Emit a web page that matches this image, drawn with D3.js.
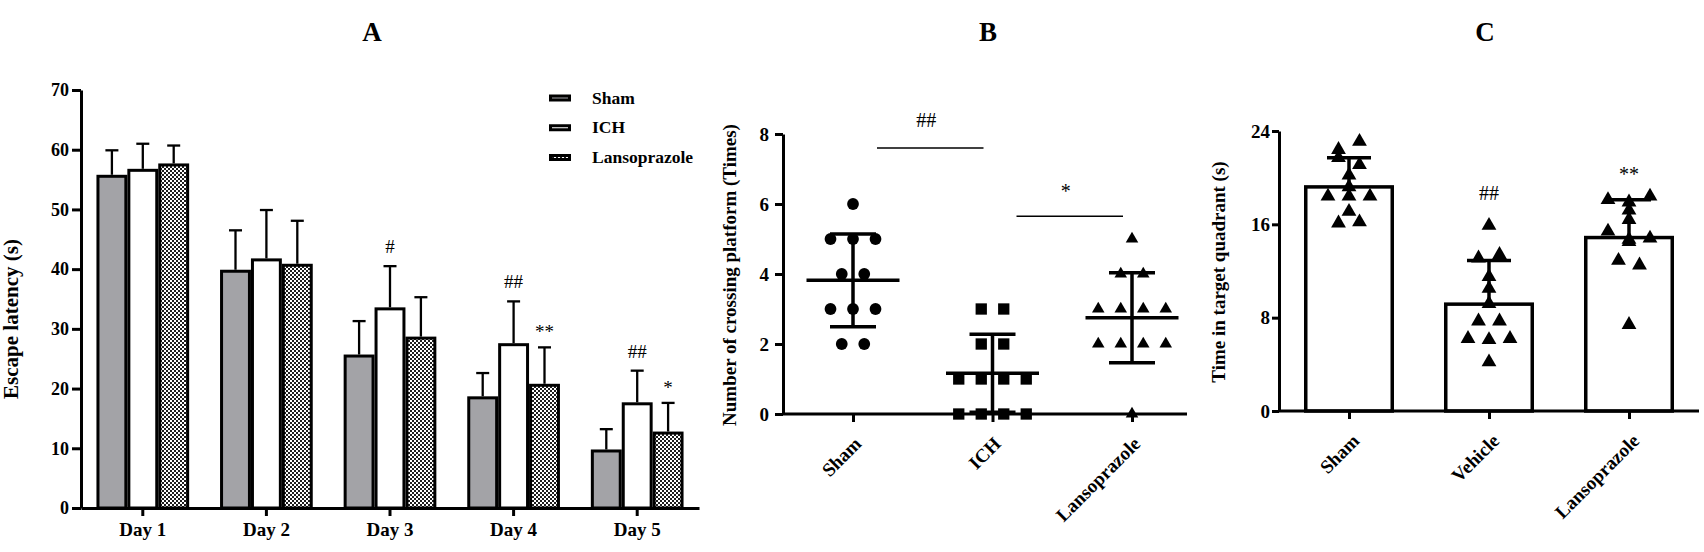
<!DOCTYPE html>
<html>
<head>
<meta charset="utf-8">
<script src="https://cdn.jsdelivr.net/npm/d3@7"></script>
<style>
  body { margin: 0; background: #fff; }
  svg { display: block; }
  text { font-family: "Liberation Serif", "Times New Roman", serif; fill: #000; }
</style>
</head>
<body>
<div id="chart"></div>
<script>
// ---- data ----

// A: escape latency, mean and SD per day
const days = ["Day 1", "Day 2", "Day 3", "Day 4", "Day 5"]
const groupsA = ["Sham", "ICH", "Lansoprazole"]
const shamLatency = [55.8, 39.9, 25.7, 18.7, 9.8]
const shamLatencySd = [4.1, 6.6, 5.6, 3.9, 3.4]
const ichLatency = [56.8, 41.8, 33.6, 27.6, 17.7]
const ichLatencySd = [4.2, 8.1, 6.9, 7.0, 5.3]
const lansoLatency = [57.7, 40.9, 28.7, 20.8, 12.8]
const lansoLatencySd = [3.0, 7.2, 6.6, 6.1, 4.8]
const latencyTicks = [0, 10, 20, 30, 40, 50, 60, 70]
const marksA = [
  { day: "Day 3", group: "ICH", label: "#" },
  { day: "Day 4", group: "ICH", label: "##" },
  { day: "Day 4", group: "Lansoprazole", label: "**" },
  { day: "Day 5", group: "ICH", label: "##" },
  { day: "Day 5", group: "Lansoprazole", label: "*" }
]

// B: platform crossings, one value per animal
const groupsB = ["Sham", "ICH", "Lansoprazole"]
const crossingSham = [6, 5, 5, 5, 4, 4, 3, 3, 3, 2, 2]
const crossingIch = [3, 3, 2, 2, 1, 1, 1, 1, 0, 0, 0, 0]
const crossingLanso = [5, 4, 4, 3, 3, 3, 3, 2, 2, 2, 2, 0]
const crossingTicks = [0, 2, 4, 6, 8]
const bracketsB = [
  { from: "Sham", to: "ICH", at: 7.6, label: "##" },
  { from: "ICH", to: "Lansoprazole", at: 5.65, label: "*" }
]

// C: time in target quadrant, one value per animal
const groupsC = ["Sham", "Vehicle", "Lansoprazole"]
const quadrantSham = [22.4, 23.1, 21.7, 21.1, 20.2, 19.2, 18.4, 18.4, 18.4, 17.1, 16.1, 16.2]
const quadrantVehicle = [15.9, 13.1, 13.4, 11.5, 10.5, 9.2, 7.7, 7.7, 6.2, 6.1, 6.2, 4.2]
const quadrantLanso = [18.1, 17.9, 18.4, 17.2, 16.4, 15.4, 14.7, 14.8, 14.5, 12.9, 12.5, 7.4]
const quadrantTicks = [0, 8, 16, 24]
const marksC = [
  { group: "Vehicle", at: 18.1, label: "##" },
  { group: "Lansoprazole", at: 19.7, label: "**" }
]

// ---- drawing ----
const width = 1704
const height = 552

const svg = d3.select("#chart")
  .append("svg")
  .attr("width", width)
  .attr("height", height)

// fine checker fill for the lansoprazole bars
const pattern = svg.append("defs")
  .append("pattern")
  .attr("id", "checker")
  .attr("width", 4)
  .attr("height", 4)
  .attr("patternUnits", "userSpaceOnUse")
pattern.append("rect").attr("width", 4).attr("height", 4).attr("fill", "#fff")
pattern.append("rect").attr("width", 2).attr("height", 2).attr("fill", "#1e1e1e")
pattern.append("rect").attr("x", 2).attr("y", 2).attr("width", 2).attr("height", 2).attr("fill", "#1e1e1e")

const fillA = { "Sham": "#a3a3a7", "ICH": "#fff", "Lansoprazole": "url(#checker)" }

const styleAxis = (g, size) => {
  g.selectAll(".domain").attr("stroke", "#000").attr("stroke-width", 3)
  g.selectAll(".tick line").attr("stroke", "#000").attr("stroke-width", 3)
  g.selectAll("text")
    .attr("font-family", "'Liberation Serif', 'Times New Roman', serif")
    .attr("font-weight", "bold")
    .attr("font-size", size)
}

const panelTitle = (label, x) => {
  svg.append("text")
    .text(label)
    .attr("x", x)
    .attr("y", 41)
    .attr("text-anchor", "middle")
    .attr("font-weight", "bold")
    .attr("font-size", 27)
}

const axisTitle = (label, x, y, size) => {
  svg.append("text")
    .text(label)
    .attr("transform", `translate(${x},${y}) rotate(-90)`)
    .attr("text-anchor", "middle")
    .attr("font-weight", "bold")
    .attr("font-size", size)
}

// spread points that sit at (nearly) the same height side by side
const swarm = (values, y, tol, step) => {
  const sorted = values.map((v, i) => ({ v, i })).sort((a, b) => b.v - a.v)
  const rows = []
  sorted.forEach(p => {
    const row = rows[rows.length - 1]
    if (row && Math.abs(y(row[0].v) - y(p.v)) <= tol) row.push(p)
    else rows.push([p])
  })
  const out = []
  rows.forEach(row => {
    row.sort((a, b) => a.i - b.i)
    row.forEach((p, k) => out.push({ value: p.v, dx: (k - (row.length - 1) / 2) * step }))
  })
  return out
}

// ===== panel A =====
const drawA = () => {
  const series = [
    { group: "Sham", mean: shamLatency, sd: shamLatencySd },
    { group: "ICH", mean: ichLatency, sd: ichLatencySd },
    { group: "Lansoprazole", mean: lansoLatency, sd: lansoLatencySd }
  ]
  const rows = []
  series.forEach(s => days.forEach((d, i) => rows.push({ day: d, group: s.group, mean: s.mean[i], sd: s.sd[i] })))

  const y = d3.scaleLinear().domain([0, 70]).range([508, 90])
  const x = d3.scaleBand().domain(days).range([81, 699]).paddingInner(0.25).paddingOuter(0.125)
  const xInner = d3.scaleBand().domain(groupsA).range([0, x.bandwidth()])
  const sw = 3

  // error bars (upper only)
  const err = svg.append("g").attr("stroke", "#000").attr("stroke-width", 2.3)
  rows.forEach(r => {
    const cx = x(r.day) + xInner(r.group) + xInner.bandwidth() / 2
    err.append("line").attr("x1", cx).attr("x2", cx).attr("y1", y(r.mean)).attr("y2", y(r.mean + r.sd))
    err.append("line").attr("x1", cx - 6.5).attr("x2", cx + 6.5).attr("y1", y(r.mean + r.sd)).attr("y2", y(r.mean + r.sd))
  })

  svg.append("g")
    .selectAll("rect")
    .data(rows)
    .join("rect")
    .attr("x", d => x(d.day) + xInner(d.group) + sw / 2)
    .attr("y", d => y(d.mean) + sw / 2)
    .attr("width", xInner.bandwidth() - sw)
    .attr("height", d => y(0) - y(d.mean) - sw / 2)
    .attr("fill", d => fillA[d.group])
    .attr("stroke", "#000")
    .attr("stroke-width", sw)

  svg.append("g")
    .attr("transform", `translate(0,${y(0)})`)
    .call(d3.axisBottom(x).tickSize(8).tickPadding(7).tickSizeOuter(0))
    .call(g => styleAxis(g, 19))

  svg.append("g")
    .attr("transform", `translate(81,0)`)
    .call(d3.axisLeft(y).tickValues(latencyTicks).tickSize(9).tickPadding(3).tickSizeOuter(0))
    .call(g => styleAxis(g, 18))

  // significance marks
  marksA.forEach(m => {
    const r = rows.find(d => d.day === m.day && d.group === m.group)
    const cx = x(m.day) + xInner(m.group) + xInner.bandwidth() / 2
    svg.append("text")
      .text(m.label)
      .attr("x", cx)
      .attr("y", y(r.mean + r.sd) - (m.label.includes("#") ? 13 : 9))
      .attr("text-anchor", "middle")
      .attr("font-size", 19)
  })

  // legend
  const legend = svg.append("g")
  groupsA.forEach((g, i) => {
    const cy = 98 + i * 29.75
    legend.append("rect")
      .attr("x", 550.5).attr("y", cy - 2)
      .attr("width", 19).attr("height", 4)
      .attr("fill", fillA[g])
      .attr("stroke", "#000").attr("stroke-width", 3)
    legend.append("text")
      .text(g)
      .attr("x", 592).attr("y", cy + 5.5)
      .attr("font-weight", "bold")
      .attr("font-size", 17.5)
  })

  axisTitle("Escape latency (s)", 18, 319, 21)
  panelTitle("A", 372)
}

// ===== panel B =====
const drawB = () => {
  const y = d3.scaleLinear().domain([0, 8]).range([414, 134])
  const x = d3.scalePoint().domain(groupsB).range([853, 1132])
  const left = 783
  const right = 1187
  const groups = [
    { group: "Sham", values: crossingSham, symbol: d3.symbolCircle, size: 109 },
    { group: "ICH", values: crossingIch, symbol: d3.symbolSquare, size: 128 },
    { group: "Lansoprazole", values: crossingLanso, symbol: d3.symbolTriangle, size: 68 }
  ]

  svg.append("g")
    .attr("transform", `translate(0,${y(0)})`)
    .call(d3.axisBottom(x).tickSize(8).tickSizeOuter(0))
    .call(g => g.select(".domain").attr("d", `M${left},0H${right}`))
    .call(g => styleAxis(g, 19))
    .call(g => g.selectAll(".tick text")
      .attr("x", 0).attr("y", 0).attr("dy", 0)
      .attr("text-anchor", "end")
      .attr("transform", "translate(9,31) rotate(-45)"))

  svg.append("g")
    .attr("transform", `translate(${left},0)`)
    .call(d3.axisLeft(y).tickValues(crossingTicks).tickSize(8).tickPadding(6).tickSizeOuter(0))
    .call(g => styleAxis(g, 19))

  groups.forEach(s => {
    const cx = x(s.group)
    const pts = swarm(s.values, y, 9, 22.5)
    svg.append("g")
      .selectAll("path")
      .data(pts)
      .join("path")
      .attr("d", d3.symbol(s.symbol, s.size))
      .attr("transform", d => `translate(${cx + d.dx},${y(d.value)})`)
      .attr("fill", "#000")

    const mean = d3.mean(s.values)
    const sd = d3.deviation(s.values)
    const g = svg.append("g").attr("stroke", "#000").attr("stroke-width", 3.5)
    g.append("line").attr("x1", cx).attr("x2", cx).attr("y1", y(mean - sd)).attr("y2", y(mean + sd))
    g.append("line").attr("x1", cx - 46.5).attr("x2", cx + 46.5).attr("y1", y(mean)).attr("y2", y(mean))
    ;[mean - sd, mean + sd].forEach(v => {
      g.append("line").attr("x1", cx - 23).attr("x2", cx + 23).attr("y1", y(v)).attr("y2", y(v))
    })
  })

  bracketsB.forEach(b => {
    const x1 = x(b.from) + 24
    const x2 = x(b.to) - 9
    svg.append("line")
      .attr("x1", x1).attr("x2", x2)
      .attr("y1", y(b.at)).attr("y2", y(b.at))
      .attr("stroke", "#000").attr("stroke-width", 1.3)
    svg.append("text")
      .text(b.label)
      .attr("x", (x1 + x2) / 2 - 4)
      .attr("y", y(b.at) - (b.label.includes("#") ? 21 : 18))
      .attr("text-anchor", "middle")
      .attr("font-size", 20)
  })

  axisTitle("Number of crossing platform (Times)", 736, 275, 19)
  panelTitle("B", 988)
}

// ===== panel C =====
const drawC = () => {
  const y = d3.scaleLinear().domain([0, 24]).range([411, 131])
  const x = d3.scalePoint().domain(groupsC).range([1279, 1699]).padding(0.5)
  const barW = 90
  const sw = 3.5
  const groups = [
    { group: "Sham", values: quadrantSham },
    { group: "Vehicle", values: quadrantVehicle },
    { group: "Lansoprazole", values: quadrantLanso }
  ]

  groups.forEach(s => {
    const cx = x(s.group)
    const mean = d3.mean(s.values)
    const sd = d3.deviation(s.values)
    svg.append("rect")
      .attr("x", cx - barW / 2 + sw / 2)
      .attr("y", y(mean) + sw / 2)
      .attr("width", barW - sw)
      .attr("height", y(0) - y(mean) - sw / 2)
      .attr("fill", "#fff")
      .attr("stroke", "#000")
      .attr("stroke-width", sw)

    const g = svg.append("g").attr("stroke", "#000").attr("stroke-width", 3.5)
    g.append("line").attr("x1", cx).attr("x2", cx).attr("y1", y(mean)).attr("y2", y(mean + sd))
    g.append("line").attr("x1", cx - 22).attr("x2", cx + 22).attr("y1", y(mean + sd)).attr("y2", y(mean + sd))

    svg.append("g")
      .selectAll("path")
      .data(swarm(s.values, y, 9, 21))
      .join("path")
      .attr("d", d3.symbol(d3.symbolTriangle, 95))
      .attr("transform", d => `translate(${cx + d.dx},${y(d.value)})`)
      .attr("fill", "#000")
  })

  svg.append("g")
    .attr("transform", `translate(0,${y(0)})`)
    .call(d3.axisBottom(x).tickSize(8).tickSizeOuter(0))
    .call(g => g.select(".domain").attr("d", `M1279,0H1699`))
    .call(g => styleAxis(g, 19))
    .call(g => g.selectAll(".tick text")
      .attr("x", 0).attr("y", 0).attr("dy", 0)
      .attr("text-anchor", "end")
      .attr("transform", "translate(11,31) rotate(-45)"))

  svg.append("g")
    .attr("transform", `translate(1279,0)`)
    .call(d3.axisLeft(y).tickValues(quadrantTicks).tickSize(7).tickPadding(2).tickSizeOuter(0))
    .call(g => styleAxis(g, 19))

  marksC.forEach(m => {
    svg.append("text")
      .text(m.label)
      .attr("x", x(m.group))
      .attr("y", y(m.at))
      .attr("text-anchor", "middle")
      .attr("font-size", 20)
  })

  axisTitle("Time in target quadrant (s)", 1225, 272, 19)
  panelTitle("C", 1485)
}

drawA()
drawB()
drawC()
</script>
</body>
</html>
